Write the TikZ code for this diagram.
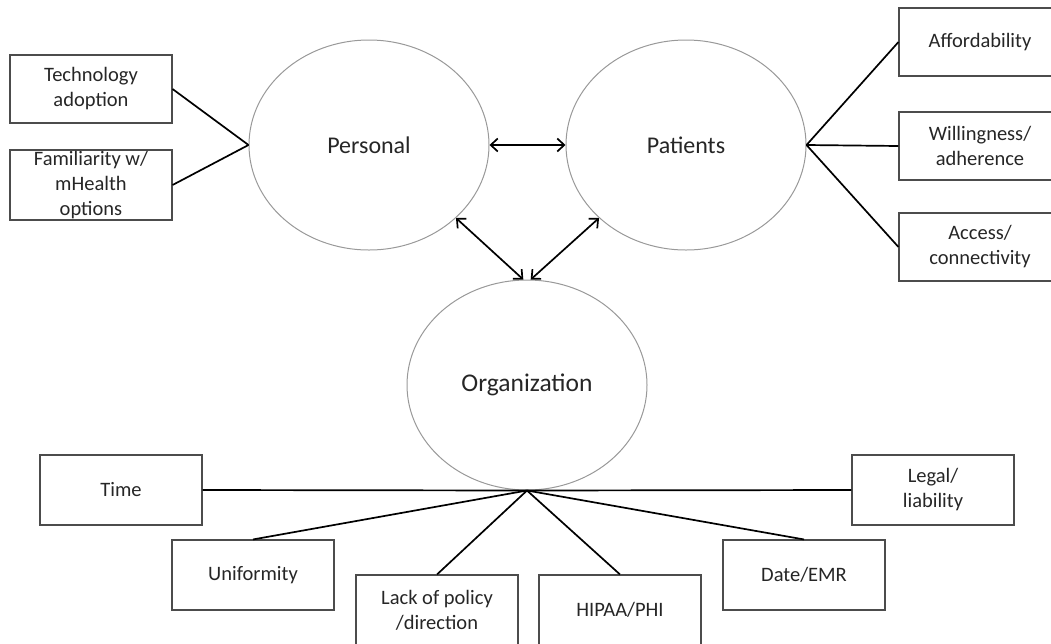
\documentclass[tikz,border=0pt]{standalone}
\usepackage{fontspec}
\setmainfont{Carlito}
\usetikzlibrary{shapes.geometric,arrows.meta}

\begin{document}
\begin{tikzpicture}[x=1pt, y=-1pt,
    circ/.style={ellipse, draw=gray!80, line width=1pt, minimum width=240pt,
      minimum height=210pt, inner sep=0pt, font=\fontsize{24}{29}\selectfont, text=black!85},
    item/.style={rectangle, draw=black!70, line width=1.1pt, minimum width=162pt,
      minimum height=70pt, inner sep=0pt, align=center,
      font=\fontsize{20.5}{25}\selectfont, text=black!85},
    link/.style={line width=1.7pt},
    twoway/.style={line width=1.7pt,
      {Straight Barb[length=7pt,width=13pt]}-{Straight Barb[length=7pt,width=13pt]}}]
  \clip (0,0) rectangle (1051,643);

  % the three groups
  \node[circ] (pers) at (369,145) {Personal};
  \node[circ] (pat) at (686,145) {Patients};
  \node[circ, font=\fontsize{25.5}{30}\selectfont] (org) at (527,385) {Organization};

  % personal factors
  \node[item, minimum height=68pt] (tech) at (91,89) {Technology\\adoption};
  \node[item] (fam) at (91,185) {Familiarity w/\\mHealth\\options};

  % patient factors
  \node[item, minimum height=68pt] (afford) at (980,42) {Affordability};
  \node[item, minimum height=68pt] (will) at (980,146) {Willingness/\\adherence};
  \node[item, minimum height=68pt] (access) at (980,247) {Access/\\connectivity};

  % organization factors
  \node[item] (time) at (121,490) {Time};
  \node[item] (unif) at (253,575) {Uniformity};
  \node[item] (lack) at (437,610) {Lack of policy\\/direction};
  \node[item] (hipaa) at (620,610) {HIPAA/PHI};
  \node[item] (date) at (804,575) {Date/EMR};
  \node[item] (legal) at (933,490) {Legal/\\liability};

  % spokes
  \draw[link] (pers.west) -- (tech.east);
  \draw[link] (pers.west) -- (fam.east);
  \draw[link] (pat.east) -- (afford.west);
  \draw[link] (pat.east) -- (will.west);
  \draw[link] (pat.east) -- (access.west);
  \draw[link] (org.south) -- (time.east);
  \draw[link] (org.south) -- (unif.north);
  \draw[link] (org.south) -- (lack.north);
  \draw[link] (org.south) -- (hipaa.north);
  \draw[link] (org.south) -- (date.north);
  \draw[link] (org.south) -- (legal.west);

  % links between the groups
  \draw[twoway] (pers.east) -- (pat.west);
  \draw[twoway] (pers.-40) -- (org.92);
  \draw[twoway] (pat.-140) -- (org.88);
\end{tikzpicture}
\end{document}
